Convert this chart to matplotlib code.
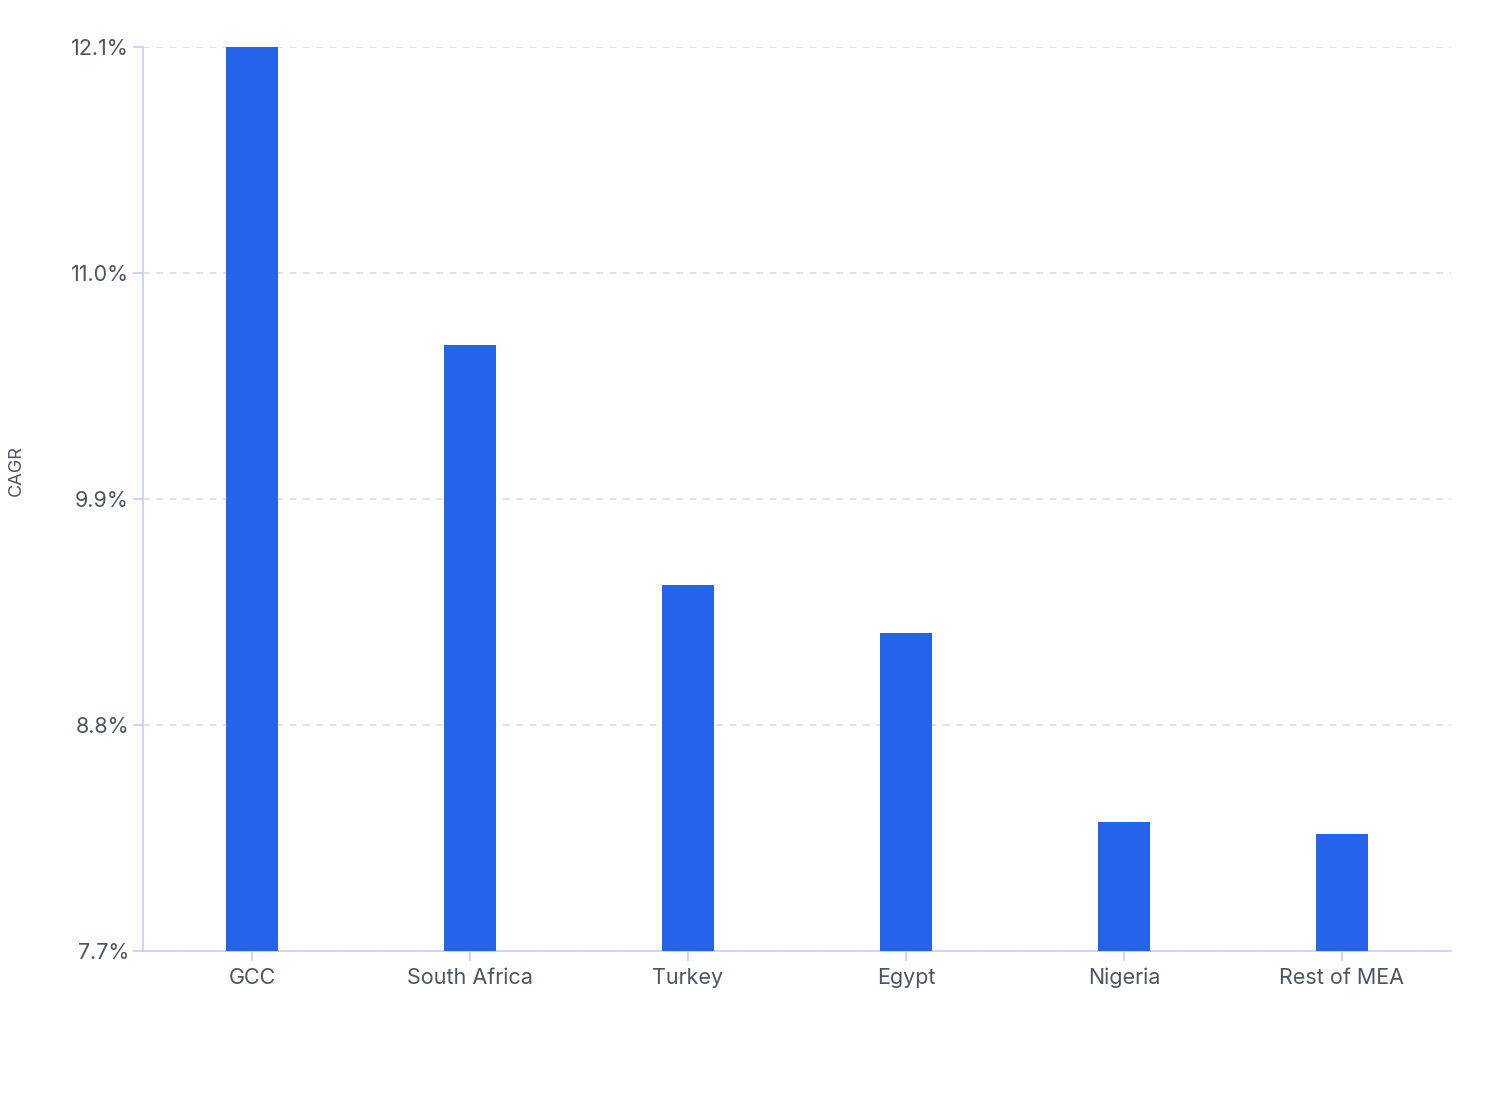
import matplotlib.pyplot as plt
from matplotlib.ticker import FixedLocator

plt.rcParams["font.family"] = ["Inter", "DejaVu Sans"]

regions = ["GCC", "South Africa", "Turkey", "Egypt", "Nigeria", "Rest of MEA"]
cagr = [12.1, 10.65, 9.48, 9.25, 8.33, 8.27]
y_ticks = [7.7, 8.8, 9.9, 11.0, 12.1]

bar_color = "#2563eb"
axis_color = "#c7d2fe"
text_color = "#4b5563"

fig = plt.figure(figsize=(15.08, 11.2), dpi=100)
ax = fig.add_axes([0.0948, 0.1509, 0.8674, 0.8071])

x = range(len(regions))
ax.bar(x, cagr, width=0.24, color=bar_color, zorder=3)

ax.set_xlim(-0.5, len(regions) - 0.5)
ax.set_ylim(y_ticks[0], y_ticks[-1])
ax.set_xticks(list(x))
ax.set_xticklabels(regions)
ax.yaxis.set_major_locator(FixedLocator(y_ticks))
ax.set_yticklabels([f"{v:.1f}%" for v in y_ticks])

ax.grid(axis="y", linestyle=(0, (4, 4)), color="#d9dce1", linewidth=1.2, zorder=0)
ax.set_axisbelow(True)

for side in ["top", "right"]:
    ax.spines[side].set_visible(False)
for side in ["left", "bottom"]:
    ax.spines[side].set_color(axis_color)
    ax.spines[side].set_linewidth(1.3)

ax.tick_params(axis="both", colors=axis_color, length=7, width=1.3,
               labelcolor=text_color, labelsize=15.5)
ax.tick_params(axis="x", pad=5)
ax.tick_params(axis="y", pad=3)

fig.text(0.011, 0.58, "CAGR", rotation=90, color=text_color, fontsize=13,
         ha="center", va="center")

fig.savefig("out.png", dpi=100, facecolor="white")
